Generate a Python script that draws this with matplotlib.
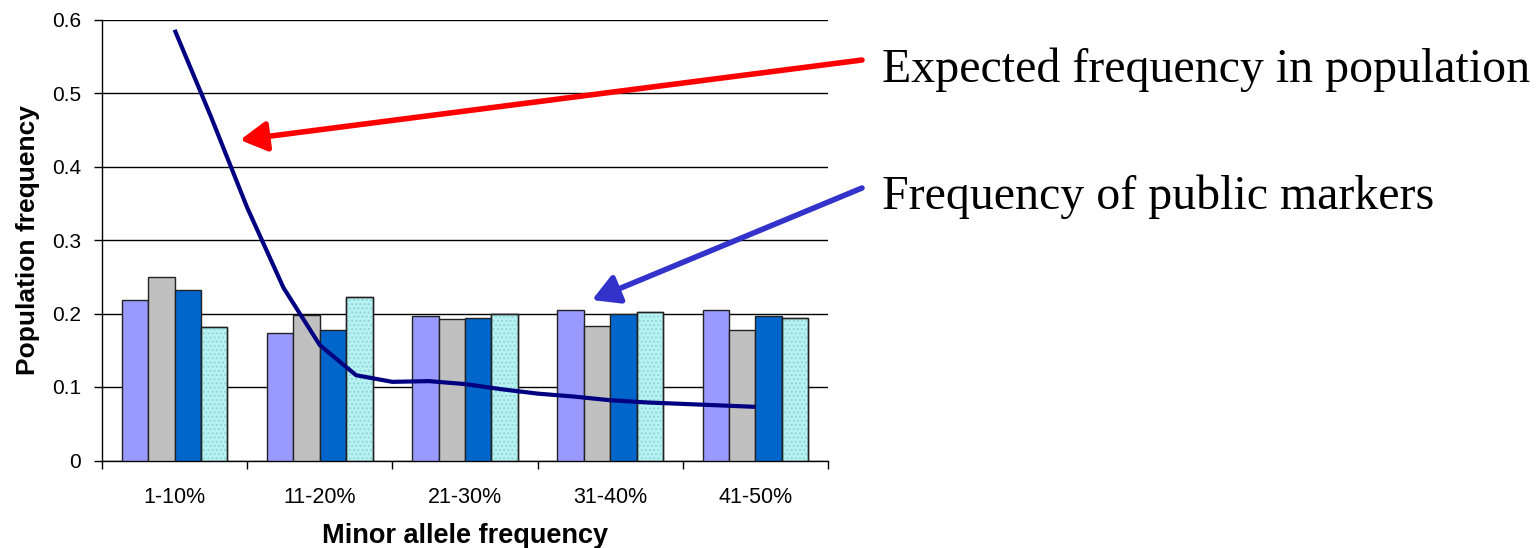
import numpy as np
import matplotlib
matplotlib.use("Agg")
import matplotlib.pyplot as plt
from matplotlib.patches import FancyArrowPatch

CATEGORIES = ["1-10%", "11-20%", "21-30%", "31-40%", "41-50%"]

# four bar series, one value per category
SERIES_A = [0.219, 0.174, 0.197, 0.205, 0.205]   # lavender
SERIES_B = [0.250, 0.198, 0.192, 0.183, 0.177]   # grey
SERIES_C = [0.232, 0.177, 0.194, 0.200, 0.196]   # blue
SERIES_D = [0.181, 0.223, 0.200, 0.202, 0.194]   # light cyan

# expected frequency curve, sampled every quarter category
CURVE_X = [0, 0.25, 0.5, 0.75, 1, 1.25, 1.5, 1.75, 2,
           2.25, 2.5, 2.75, 3, 3.25, 3.5, 3.75, 4]
CURVE_Y = [0.586, 0.468, 0.344, 0.235, 0.157, 0.116, 0.107, 0.108, 0.104,
           0.097, 0.091, 0.087, 0.082, 0.079, 0.077, 0.075, 0.073]

BAR_COLORS = ["#9999FF", "#C0C0C0", "#0066CC", "#B8F2F2"]
LABEL_EXPECTED = "Expected frequency in population"
LABEL_PUBLIC = "Frequency of public markers"


def draw_chart(ax):
    x = np.arange(len(CATEGORIES))
    width = 0.182
    offsets = [-1.5 * width, -0.5 * width, 0.5 * width, 1.5 * width]
    series = [SERIES_A, SERIES_B, SERIES_C, SERIES_D]
    for vals, off, col in zip(series, offsets, BAR_COLORS):
        ax.bar(x + off, vals, width, color=col, edgecolor="#222222",
               linewidth=1.0, zorder=3)
    # faint dot texture on the cyan series
    ax.bar(x + offsets[3], SERIES_D, width, color="none", edgecolor="#8FD8D8",
           linewidth=0, hatch="....", zorder=3.5)
    ax.bar(x + offsets[3], SERIES_D, width, color="none", edgecolor="#222222",
           linewidth=1.0, zorder=3.6)

    ax.plot(CURVE_X, CURVE_Y, color="#000080", lw=3.0, zorder=4,
            solid_capstyle="butt", solid_joinstyle="round")

    ax.set_xlim(-0.5, len(CATEGORIES) - 0.5)
    ax.set_ylim(0, 0.6)
    ax.set_yticks(np.arange(0, 0.61, 0.1))
    ax.set_yticklabels(["0", "0.1", "0.2", "0.3", "0.4", "0.5", "0.6"])
    ax.yaxis.grid(True, color="black", lw=1.0, zorder=0)
    ax.set_axisbelow(True)

    # tick marks between categories, labels centred on them
    ax.set_xticks(np.arange(-0.5, len(CATEGORIES)), minor=False)
    ax.set_xticklabels([])
    ax.set_xticks(x, minor=True)
    ax.set_xticklabels(CATEGORIES, minor=True, fontsize=15.5)
    ax.tick_params(axis="x", which="minor", length=0, pad=19)
    ax.tick_params(axis="x", which="major", length=6, width=1, direction="out")
    ax.tick_params(axis="y", length=6, width=1, labelsize=15, direction="out",
                   pad=9)

    for s in ["top", "right"]:
        ax.spines[s].set_visible(False)
    for s in ["left", "bottom"]:
        ax.spines[s].set_color("black")
        ax.spines[s].set_linewidth(1.0)

    ax.set_xlabel("Minor allele frequency", fontsize=19.5, fontweight="bold",
                  labelpad=11)
    ax.set_ylabel("Population frequency", fontsize=19, fontweight="bold",
                  labelpad=9)


def draw_callouts(fig):
    h = fig.get_figheight() * fig.dpi
    def px(xp, yp):
        return (xp, h - yp)
    for start, tip, col in [((862, 60), (240, 140), "#FF0000"),
                            ((862, 188), (592, 300), "#3333CC")]:
        arr = FancyArrowPatch(px(*start), px(*tip), transform=None,
                              arrowstyle="-|>,head_length=0.8,head_width=0.45",
                              mutation_scale=20, color=col, lw=4.0,
                              shrinkA=0, shrinkB=0)
        fig.patches.append(arr)
    fig.text(882 / 1539, 1 - 70 / 548, LABEL_EXPECTED, fontsize=34.5,
             family="Liberation Serif", va="center", ha="left")
    fig.text(882 / 1539, 1 - 197 / 548, LABEL_PUBLIC, fontsize=34.5,
             family="Liberation Serif", va="center", ha="left")


def main():
    plt.rcParams["font.family"] = ["Liberation Sans", "DejaVu Sans"]
    fig = plt.figure(figsize=(15.39, 5.48), dpi=100)
    ax = fig.add_axes([102 / 1539, 1 - 460.5 / 548, (828 - 102) / 1539, 441 / 548])
    draw_chart(ax)
    draw_callouts(fig)
    fig.savefig("out.png", dpi=100)


if __name__ == "__main__":
    main()
